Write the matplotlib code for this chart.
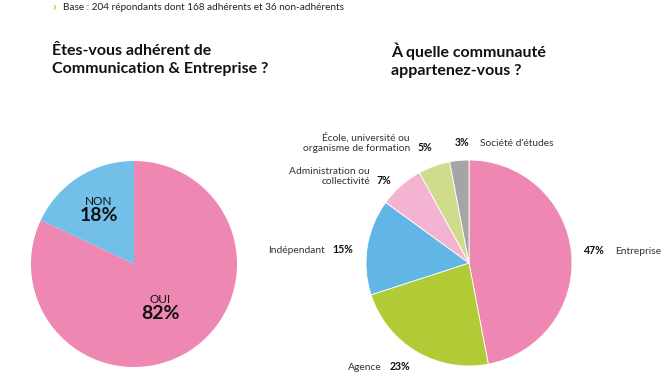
import matplotlib
matplotlib.use("Agg")
import matplotlib.pyplot as plt
import numpy as np

# data
member_labels = ["OUI", "NON"]
member_values = [82, 18]
member_colors = ["#ee87b1", "#72c0ea"]

comm_labels = ["Entreprise", "Agence", "Indépendant", "Administration ou\ncollectivité",
               "École, université ou\norganisme de formation", "Société d'études"]
comm_values = [47, 23, 15, 7, 5, 3]
comm_colors = ["#ee87b1", "#b1cb37", "#62b6e6", "#f4b3d1", "#cfdc8b", "#a5a5a5"]

W, H = 667, 389
plt.rcParams["font.family"] = ["Lato", "DejaVu Sans"]


def fx(x):
    return x / W


def fy(y):
    return 1 - y / H


def pie_axes(fig, cx, cy, r):
    return fig.add_axes([fx(cx - r), fy(cy + r), 2 * r / W, 2 * r / H])


def fix_limits(ax):
    ax.set_xlim(-1, 1)
    ax.set_ylim(-1, 1)
    ax.set_aspect("auto")
    ax.axis("off")


fig = plt.figure(figsize=(W / 100, H / 100), dpi=100)

# header
fig.text(fx(52), fy(7), "›", color="#a6c93a", fontsize=9, fontweight="bold", va="center")
fig.text(fx(63), fy(7), "Base : 204 répondants dont 168 adhérents et 36 non-adhérents",
         fontsize=7.2, color="#222222", va="center")

# titles
fig.text(fx(52), fy(60), "Êtes-vous adhérent de\nCommunication & Entreprise ?",
         fontsize=11.5, fontweight="bold", va="center", linespacing=1.4, color="#111111")
fig.text(fx(391), fy(60), "À quelle communauté\nappartenez-vous ?",
         fontsize=11.5, fontweight="bold", va="center", linespacing=1.4, color="#111111")

# left pie
ax1 = pie_axes(fig, 134, 264, 103)
wedges, _ = ax1.pie(member_values, colors=member_colors, startangle=90, counterclock=False,
                    radius=1, wedgeprops=dict(linewidth=0))
fix_limits(ax1)
for w, lab, val, rf in zip(wedges, member_labels, member_values, [0.48, 0.64]):
    ang = np.deg2rad((w.theta1 + w.theta2) / 2)
    x, y = rf * np.cos(ang), rf * np.sin(ang)
    ax1.text(x, y + 0.01, lab, ha="center", va="bottom", fontsize=8.5, color="#111111")
    ax1.text(x, y + 0.01, "%d%%" % val, ha="center", va="top", fontsize=14,
             fontweight="bold", color="#111111")

# right pie
ax2 = pie_axes(fig, 469, 263, 103)
ax2.pie(comm_values, colors=comm_colors, startangle=90, counterclock=False,
        radius=1, wedgeprops=dict(linewidth=0.6, edgecolor="white"))
fix_limits(ax2)

# label layout: (side, x of name edge, x of pct, baseline y)
layout = [
    ("right", 615, 584, 254),
    ("left", 382, 390, 370),
    ("left", 325, 332, 253),
    ("left", 370, 377, 184),
    ("left", 410, 417, 151),
    ("right", 480, 455, 146),
]
for lab, val, (side, xn, xp, yb) in zip(comm_labels, comm_values, layout):
    ha = "right" if side == "left" else "left"
    fig.text(fx(xn), fy(yb), lab, ha=ha, va="baseline", fontsize=7.4,
             color="#333333", linespacing=1.15, multialignment=ha)
    fig.text(fx(xp), fy(yb), "%d%%" % val, ha="left", va="baseline", fontsize=7.6,
             fontweight="bold", color="#111111")

fig.savefig("out.png", dpi=100)
